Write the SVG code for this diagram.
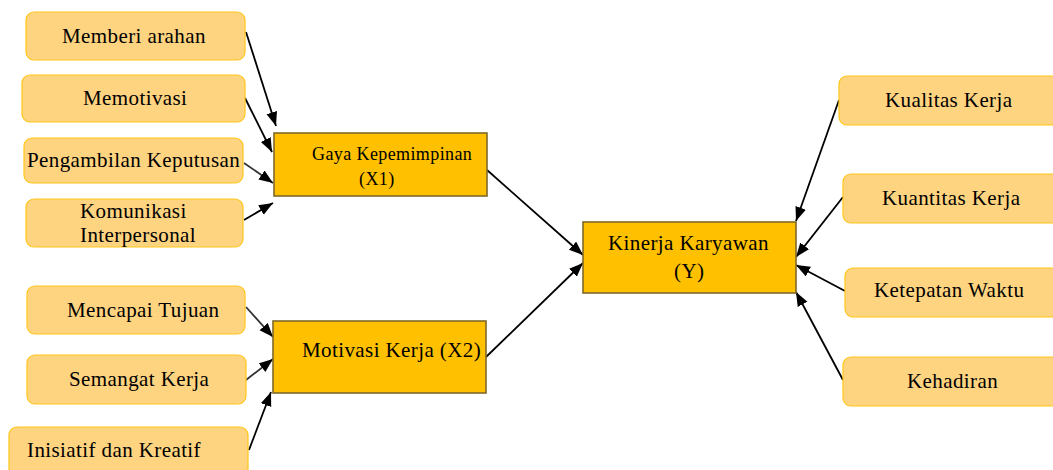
<svg xmlns="http://www.w3.org/2000/svg" width="1053" height="470" viewBox="0 0 1053 470">
<style>
.ind{fill:#FED480;stroke:#FFC61A;stroke-width:1.2}
.var{fill:#FFC000;stroke:#7F6A2A;stroke-width:1.6}
text{font-family:"Liberation Serif","Times New Roman",serif;font-size:21px;fill:#000;letter-spacing:0.4px}
.sm{font-size:18px}
.c{stroke:#000;stroke-width:1.8;fill:none;marker-end:url(#ah)}
</style>
<defs>
<marker id="ah" markerUnits="userSpaceOnUse" markerWidth="15" markerHeight="12" refX="14" refY="5.5" orient="auto">
<path d="M0,0 L14,5.5 L0,11 Z" fill="#000"/>
</marker>
</defs>
<rect width="1053" height="470" fill="#fff"/>
<g id="connectors">
<line class="c" x1="246" y1="32" x2="276" y2="126"/>
<line class="c" x1="245" y1="98" x2="272" y2="152"/>
<line class="c" x1="244" y1="163" x2="273" y2="183" style="stroke:#333"/>
<line class="c" x1="244" y1="220" x2="273" y2="203"/>
<line class="c" x1="246" y1="307" x2="273" y2="337" style="stroke:#333"/>
<line class="c" x1="246" y1="380" x2="273" y2="359" style="stroke:#333"/>
<line class="c" x1="249" y1="450" x2="271" y2="392"/>
<line class="c" x1="487" y1="170" x2="583" y2="255"/>
<line class="c" x1="486" y1="357" x2="583" y2="263"/>
<line class="c" x1="839" y1="100" x2="796" y2="221"/>
<line class="c" x1="843" y1="197" x2="796" y2="257"/>
<line class="c" x1="845" y1="291" x2="796" y2="265"/>
<line class="c" x1="843" y1="380" x2="796" y2="292"/>
</g>
<g id="n-memberi"><rect class="ind" x="26" y="12" width="219" height="48" rx="8"/><text x="62" y="43">Memberi arahan</text></g>
<g id="n-memotivasi"><rect class="ind" x="22" y="75" width="223" height="47" rx="8"/><text x="83" y="105">Memotivasi</text></g>
<g id="n-pengambilan"><rect class="ind" x="24" y="138" width="219" height="45" rx="8"/><text x="27" y="167">Pengambilan Keputusan</text></g>
<g id="n-komunikasi"><rect class="ind" x="26" y="199" width="217" height="48" rx="8"/><text x="80" y="218">Komunikasi</text><text x="80" y="242">Interpersonal</text></g>
<g id="n-mencapai"><rect class="ind" x="27" y="286" width="218" height="48" rx="8"/><text x="67" y="317">Mencapai Tujuan</text></g>
<g id="n-semangat"><rect class="ind" x="27" y="355" width="219" height="49" rx="8"/><text x="69" y="386">Semangat Kerja</text></g>
<g id="n-inisiatif"><rect class="ind" x="9" y="427" width="239" height="60" rx="8"/><text x="27" y="457">Inisiatif dan Kreatif</text></g>
<g id="n-gaya"><rect class="var" x="274" y="133" width="213" height="63"/><text class="sm" x="312" y="160">Gaya Kepemimpinan</text><text class="sm" x="359" y="185">(X1)</text></g>
<g id="n-motivasi"><rect class="var" x="273" y="321" width="213" height="72"/><text x="302" y="357">Motivasi Kerja (X2)</text></g>
<g id="n-kinerja"><rect class="var" x="583" y="222" width="213" height="71"/><text x="608" y="250">Kinerja Karyawan</text><text x="674" y="278">(Y)</text></g>
<g id="n-kualitas"><rect class="ind" x="839" y="76" width="230" height="49" rx="8"/><text x="885" y="107">Kualitas Kerja</text></g>
<g id="n-kuantitas"><rect class="ind" x="843" y="174" width="226" height="49" rx="8"/><text x="882" y="205">Kuantitas Kerja</text></g>
<g id="n-ketepatan"><rect class="ind" x="845" y="268" width="224" height="49" rx="8"/><text x="874" y="297">Ketepatan Waktu</text></g>
<g id="n-kehadiran"><rect class="ind" x="843" y="357" width="226" height="49" rx="8"/><text x="907" y="388">Kehadiran</text></g>
</svg>
